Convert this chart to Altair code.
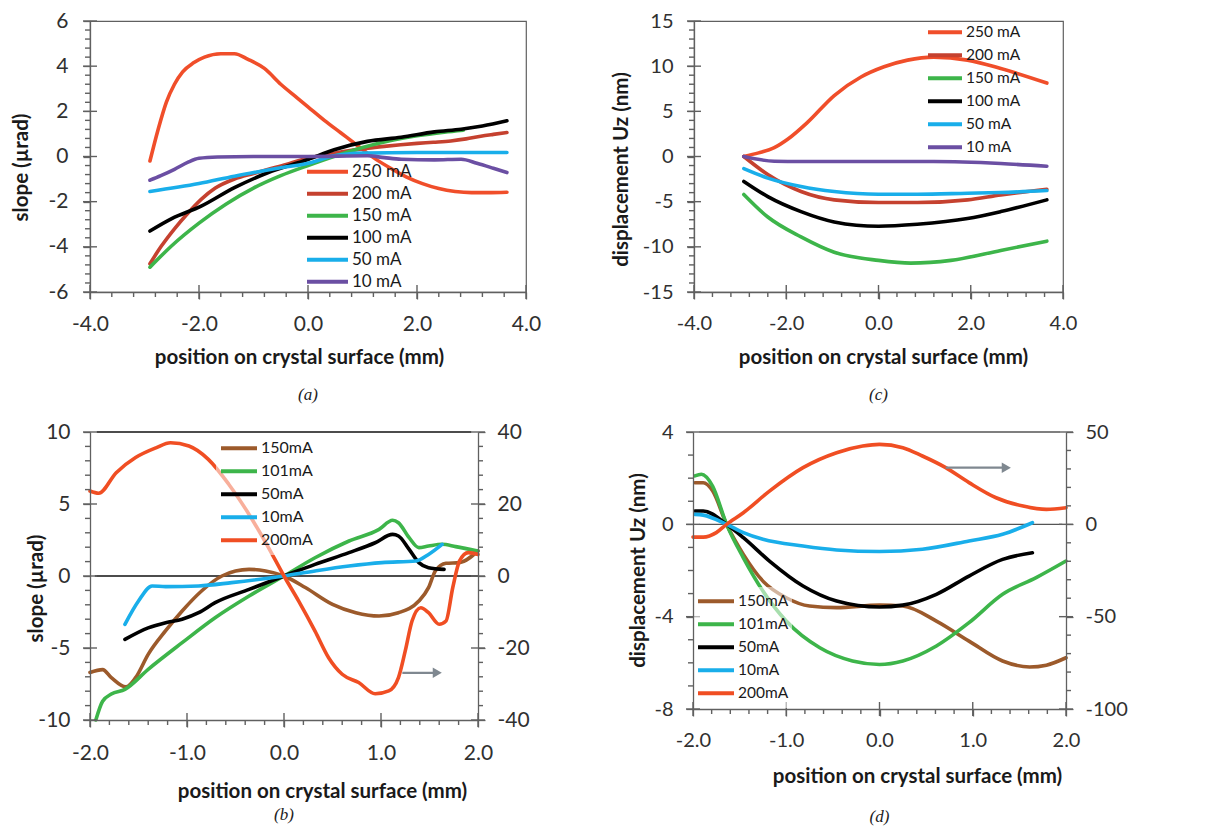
import altair as alt
import pandas as pd

FONT = "Lato"
GRAY = "#606060"

# ---------------- panel (a): slope vs position ----------------
a_series = ["250 mA", "200 mA", "150 mA", "100 mA", "50 mA", "10 mA"]
a_colors = ["#F04E2A", "#C5412F", "#3DB54A", "#000000", "#19AEEA", "#6B4FA3"]
a_x_250 = [-2.9, -2.75, -2.6, -2.45, -2.3, -2.1, -1.9, -1.6, -1.35, -1.1, -0.8, -0.5, -0.2, 0.0, 0.3, 0.6, 0.9, 1.2, 1.5, 1.8, 2.1, 2.4, 2.7, 3.0, 3.3, 3.65]
a_y_250 = [-0.2, 1.2, 2.4, 3.2, 3.75, 4.15, 4.4, 4.55, 4.55, 4.3, 3.9, 3.2, 2.6, 2.2, 1.6, 1.05, 0.5, -0.05, -0.5, -0.9, -1.2, -1.42, -1.55, -1.6, -1.6, -1.58]
a_x_200 = [-2.9, -2.7, -2.45, -2.2, -1.96, -1.7, -1.35, -1.0, -0.74, -0.4, -0.13, 0.2, 0.5, 0.8, 1.1, 1.4, 1.7, 2.0, 2.3, 2.62, 2.9, 3.17, 3.4, 3.65]
a_y_200 = [-4.75, -4.0, -3.2, -2.5, -1.9, -1.4, -1.0, -0.75, -0.57, -0.35, -0.15, 0.02, 0.15, 0.27, 0.37, 0.45, 0.52, 0.58, 0.63, 0.69, 0.78, 0.9, 0.98, 1.06]
a_x_150 = [-2.9, -2.5, -2.0, -1.5, -1.0, -0.5, 0.0, 0.5, 1.0, 1.5, 2.0, 2.5, 2.85]
a_y_150 = [-4.9, -3.95, -2.95, -2.1, -1.4, -0.85, -0.4, 0.02, 0.4, 0.7, 0.92, 1.08, 1.17]
a_x_100 = [-2.9, -2.5, -1.96, -1.35, -0.74, 0.0, 0.48, 1.09, 1.71, 2.32, 2.81, 3.2, 3.65]
a_y_100 = [-3.3, -2.75, -2.2, -1.38, -0.72, -0.13, 0.3, 0.67, 0.85, 1.09, 1.21, 1.35, 1.58]
a_x_50 = [-2.9, -2.0, -1.35, -0.5, 0.0, 0.48, 1.0, 2.0, 3.0, 3.65]
a_y_50 = [-1.55, -1.2, -0.87, -0.5, -0.3, 0.03, 0.15, 0.18, 0.18, 0.18]
a_x_10 = [-2.9, -2.7, -2.45, -2.2, -2.0, -1.66, -1.0, 0.0, 1.09, 1.4, 1.71, 2.32, 2.81, 3.1, 3.4, 3.65]
a_y_10 = [-1.05, -0.85, -0.57, -0.25, -0.08, -0.02, 0.0, 0.0, 0.03, -0.05, -0.12, -0.15, -0.12, -0.3, -0.52, -0.71]

# ---------------- panel (c): displacement vs position ----------------
c_series = ["250 mA", "200 mA", "150 mA", "100 mA", "50 mA", "10 mA"]
c_colors = a_colors
c_x_250 = [-2.92, -2.6, -2.26, -1.97, -1.54, -0.96, -0.38, 0.12, 0.63, 1.2, 1.93, 2.65, 3.65]
c_y_250 = [0.0, 0.4, 0.97, 1.9, 3.77, 6.75, 8.8, 9.93, 10.67, 11.0, 10.67, 9.74, 8.13]
c_x_mid = [-2.92, -2.4, -1.68, -0.96, 0.0, 0.84, 1.93, 2.65, 3.65]
c_y_200 = [0.0, -2.0, -3.88, -4.8, -5.1, -5.1, -4.8, -4.25, -3.62]
c_x_150 = [-2.92, -2.4, -1.68, -0.96, 0.0, 0.7, 1.57, 2.65, 3.65]
c_y_150 = [-4.2, -6.7, -8.9, -10.6, -11.5, -11.8, -11.5, -10.4, -9.37]
c_y_100 = [-2.76, -4.44, -6.1, -7.24, -7.72, -7.5, -6.87, -6.1, -4.8]
c_y_50 = [-1.34, -2.39, -3.32, -3.88, -4.18, -4.18, -4.07, -3.99, -3.77]
c_x_10 = [-2.92, -2.26, -1.68, 0.0, 1.2, 2.65, 3.65]
c_y_10 = [0.0, -0.52, -0.56, -0.56, -0.56, -0.78, -1.08]

# ---------------- panel (b): slope, dual axis ----------------
b_series = ["150mA", "101mA", "50mA", "10mA", "200mA"]
b_colors = ["#9C5A2B", "#3DB54A", "#000000", "#19AEEA", "#F04E23"]
b_x_150 = [-2.0, -1.87, -1.78, -1.63, -1.53, -1.4, -1.22, -1.05, -0.85, -0.64, -0.36, -0.19, 0.0, 0.22, 0.5, 0.74, 0.98, 1.18, 1.39, 1.49, 1.56, 1.67, 1.81, 2.0]
b_y_150 = [-6.7, -6.5, -7.06, -7.7, -7.06, -5.44, -3.8, -2.43, -1.04, 0.0, 0.46, 0.35, 0.0, -0.8, -1.97, -2.55, -2.78, -2.55, -1.74, -0.81, 0.35, 0.88, 0.93, 1.74]
b_x_101 = [-1.94, -1.87, -1.78, -1.64, -1.4, -1.05, -0.71, -0.36, 0.0, 0.32, 0.67, 0.98, 1.12, 1.18, 1.29, 1.39, 1.49, 1.63, 1.77, 2.0]
b_y_101 = [-10.0, -8.7, -8.2, -7.87, -6.48, -4.63, -2.9, -1.39, 0.0, 1.27, 2.43, 3.24, 3.87, 3.7, 2.66, 1.97, 2.08, 2.2, 2.04, 1.74]
b_x_50 = [-1.64, -1.4, -1.22, -1.05, -0.88, -0.71, -0.36, 0.0, 0.32, 0.67, 0.94, 1.12, 1.18, 1.29, 1.39, 1.49, 1.65]
b_y_50 = [-4.4, -3.6, -3.24, -3.0, -2.55, -1.85, -0.93, 0.0, 0.81, 1.62, 2.31, 2.89, 2.78, 1.85, 0.93, 0.58, 0.46]
b_x_10 = [-1.64, -1.5, -1.36, -1.22, -0.88, -0.54, 0.0, 0.32, 0.67, 1.01, 1.36, 1.49, 1.63]
b_y_10 = [-3.36, -1.74, -0.69, -0.74, -0.69, -0.46, 0.0, 0.35, 0.69, 0.93, 1.04, 1.5, 2.2]
b_x_200 = [-2.0, -1.91, -1.73, -1.53, -1.32, -1.17, -0.98, -0.78, -0.57, -0.36, -0.16, 0.0, 0.15, 0.32, 0.46, 0.6, 0.77, 0.94, 1.08, 1.18, 1.25, 1.32, 1.41, 1.49, 1.6, 1.67, 1.74, 1.81, 1.9, 2.0]
b_y_200 = [23.6, 23.0, 28.7, 32.9, 35.6, 37.0, 36.1, 32.4, 25.5, 17.1, 7.9, 0.0, -6.9, -15.3, -22.7, -27.3, -29.6, -32.7, -31.9, -28.2, -20.8, -12.5, -8.8, -10.2, -13.4, -12.5, -3.2, 4.2, 6.5, 6.0]
b_arrow_x = [1.22]
b_arrow_x2 = [1.58]
b_arrow_y = [-26.9]
b_rule_y = [10, 0]
b_rule_x = [-1.93, -1.95]
b_rule_x2 = [1.93, 2.0]

# ---------------- panel (d): displacement, dual axis ----------------
d_series = ["150mA", "101mA", "50mA", "10mA", "200mA"]
d_colors = b_colors
d_x_150 = [-1.98, -1.89, -1.79, -1.64, -1.46, -1.25, -1.0, -0.75, -0.46, 0.0, 0.25, 0.61, 0.96, 1.32, 1.61, 1.79, 2.0]
d_y_150 = [1.8, 1.8, 1.45, 0.0, -1.3, -2.46, -3.18, -3.54, -3.61, -3.5, -3.54, -4.19, -5.06, -5.92, -6.18, -6.1, -5.78]
d_x_101 = [-1.98, -1.91, -1.79, -1.64, -1.46, -1.25, -1.0, -0.64, -0.29, 0.0, 0.25, 0.61, 0.96, 1.32, 1.68, 2.0]
d_y_101 = [2.1, 2.17, 1.66, 0.0, -1.45, -2.89, -4.19, -5.35, -5.92, -6.07, -5.92, -5.27, -4.26, -3.03, -2.31, -1.59]
d_x_50 = [-1.98, -1.89, -1.64, -1.46, -1.18, -0.82, -0.46, 0.0, 0.25, 0.61, 0.96, 1.32, 1.64]
d_y_50 = [0.58, 0.58, 0.0, -0.58, -1.59, -2.67, -3.32, -3.58, -3.5, -3.03, -2.24, -1.52, -1.23]
d_x_10 = [-1.98, -1.89, -1.64, -1.46, -1.25, -0.82, -0.46, 0.0, 0.46, 0.96, 1.32, 1.64]
d_y_10 = [0.43, 0.4, 0.0, -0.36, -0.65, -0.94, -1.11, -1.18, -1.08, -0.72, -0.43, 0.07]
d_x_200 = [-2.0, -1.89, -1.75, -1.64, -1.46, -1.18, -0.82, -0.46, -0.18, 0.0, 0.25, 0.46, 0.71, 0.96, 1.25, 1.54, 1.79, 2.0]
d_y_200 = [-6.9, -6.9, -4.5, 0.0, 6.3, 18.0, 30.7, 38.8, 42.4, 43.3, 41.5, 37.0, 30.7, 22.6, 14.4, 9.9, 8.1, 9.0]
d_arrow_x = [0.71]
d_arrow_x2 = [1.36]
d_arrow_y = [30.7]
d_rule_y = [4, 0]
d_rule_x = [-1.93, -1.93]
d_rule_x2 = [1.93, 1.96]


def long(names, xs, ys):
    rows = []
    for n, xv, yv in zip(names, xs, ys):
        for i, (a, b) in enumerate(zip(xv, yv)):
            rows.append({"x": a, "y": b, "s": n, "i": i})
    return pd.DataFrame(rows)


def ticks_between(lo, hi, step, majors):
    out, k = [], 0
    while True:
        v = round(lo + k * step, 6)
        if v > hi + 1e-9:
            break
        if all(abs(v - m) > 1e-6 for m in majors):
            out.append(v)
        k += 1
    return out


def lbl(fmt):
    return f"datum.value < 0 ? '-' + format(-datum.value, '{fmt}') : format(datum.value, '{fmt}')"


def ax_main(orient, values, fmt, lp, fs, title=None, tx=None, ty=None):
    kw = dict(orient=orient, values=values, labelExpr=lbl(fmt), ticks=True, tickSize=7,
              tickColor=GRAY, tickWidth=1.3, domain=True, domainColor=GRAY, domainWidth=1.3,
              labelFont=FONT, labelFontSize=fs, labelColor="#303030",
              labelPadding=lp, grid=False, labelFlush=False, labelOverlap=False, zindex=2)
    if title:
        kw.update(title=title, titleFont=FONT, titleFontSize=20.5, titleFontWeight="bold",
                  titleColor="#1a1a1a", titleX=tx, titleY=ty, titleAlign="center",
                  titleBaseline="middle")
    else:
        kw["title"] = None
    return alt.Axis(**kw)


def tick_layer(values, at, horizontal_axis, length, off, xs, ys):
    """Tick marks drawn as short rules at the tick values, placed through the scales."""
    n = len(values)
    if horizontal_axis:
        df = pd.DataFrame({"x": [float(v) for v in values], "y": [float(at)] * n})
        return alt.Chart(df).mark_rule(color=GRAY, strokeWidth=1.4, opacity=1,
                                       yOffset=off - length / 2, y2Offset=off + length / 2).encode(
            x=alt.X("x:Q", scale=xs, axis=None),
            y=alt.Y("y:Q", scale=ys, axis=None),
            y2=alt.Y2("y:Q"))
    df = pd.DataFrame({"x": [float(at)] * n, "y": [float(v) for v in values]})
    return alt.Chart(df).mark_rule(color=GRAY, strokeWidth=1.4, opacity=1,
                                   xOffset=off - length / 2, x2Offset=off + length / 2).encode(
        y=alt.Y("y:Q", scale=ys, axis=None),
        x=alt.X("x:Q", scale=xs, axis=None),
        x2=alt.X2("x:Q"))


def line_rule(df, xs, ys, color, width):
    enc = dict(x=alt.X("x:Q", scale=xs, axis=None), y=alt.Y("y:Q", scale=ys, axis=None))
    if "x2" in df.columns:
        enc["x2"] = "x2:Q"
    if "y2" in df.columns:
        enc["y2"] = "y2:Q"
    return alt.Chart(df).mark_rule(color=color, strokeWidth=width).encode(**enc)


def panel(df, series, colors, legend, W, H, fs, xdom, xmaj, xstep, xfmt, xlp, xtitle, xtx, xty,
          ydom, ymaj, ystep, yfmt, ylp, ytitle, ytx, yty, caption, cap_off, frame,
          dfr=None, rdom=None, rmaj=None, rstep=None, rlp=None, arrow=None, rules=None, rule_color=None):
    xs = alt.Scale(domain=xdom, nice=False, zero=False)
    ys = alt.Scale(domain=ydom, nice=False, zero=False)
    xmin = ticks_between(xdom[0], xdom[1], xstep, xmaj)
    ymin = ticks_between(ydom[0], ydom[1], ystep, ymaj)
    color = alt.Color("s:N", scale=alt.Scale(domain=series, range=colors), legend=legend)
    layers = []
    if rules is not None:
        layers.append(line_rule(rules, xs, ys, rule_color, 1.3))
    main = alt.Chart(df).mark_line(strokeWidth=3.6, interpolate="monotone", strokeCap="round").encode(
        x=alt.X("x:Q", scale=xs, axis=ax_main("bottom", xmaj, xfmt, xlp, fs, xtitle, xtx, xty)),
        y=alt.Y("y:Q", scale=ys, axis=ax_main("left", ymaj, yfmt, ylp, fs, ytitle, ytx, yty)),
        color=color, order="i:Q")
    layers.append(main)
    if dfr is not None:
        rs = alt.Scale(domain=rdom, nice=False, zero=False)
        rmin = ticks_between(rdom[0], rdom[1], rstep, rmaj)
        layers.append(alt.Chart(dfr).mark_line(strokeWidth=3.6, interpolate="monotone", strokeCap="round").encode(
            x=alt.X("x:Q", scale=xs, axis=None),
            y=alt.Y("y:Q", scale=rs, axis=ax_main("right", rmaj, "d", rlp, fs)),
            color=color, order="i:Q"))
        layers.append(tick_layer(rmaj, xdom[1], False, 14, 0, xs, rs))
        layers.append(tick_layer(rmin, xdom[1], False, 5, 2.5, xs, rs))
        if arrow is not None:
            layers.append(line_rule(arrow, xs, rs, "#7F8890", 2.2))
            layers.append(alt.Chart(arrow).mark_point(shape="triangle-right", filled=True, size=110,
                                                      color="#7F8890", opacity=1).encode(
                x=alt.X("x2:Q", scale=xs, axis=None), y=alt.Y("y:Q", scale=rs, axis=None)))
    # tick marks drawn on top: majors cross the axis, minors sit outside
    layers.append(tick_layer(xmaj, ydom[0], True, 14, 0, xs, ys))
    layers.append(tick_layer(xmin, ydom[0], True, 5, 2.5, xs, ys))
    layers.append(tick_layer(ymaj, xdom[0], False, 14, 0, xs, ys))
    layers.append(tick_layer(ymin, xdom[0], False, 5, -2.5, xs, ys))
    ch = alt.layer(*layers).resolve_scale(y="independent").resolve_axis(x="independent", y="independent")
    ch = ch.properties(
        width=W, height=H,
        title=alt.TitleParams(text=caption, orient="bottom", anchor="middle", frame="group",
                              font="Liberation Serif", fontStyle="italic", fontWeight="normal",
                              fontSize=17, color="#222222", offset=cap_off),
        view=alt.ViewBackground(stroke=GRAY if frame else "transparent", strokeWidth=1.2))
    return ch


def legend(x, y, size, fs, ch, fill=None, pad=0):
    kw = dict(orient="none", legendX=x, legendY=y, title=None, symbolType="stroke", symbolSize=size,
              symbolStrokeWidth=4, labelFont=FONT, labelFontSize=fs, labelColor="#1a1a1a",
              clipHeight=ch, rowPadding=0, padding=pad, labelOffset=2)
    if fill:
        kw["fillColor"] = fill
    return alt.Legend(**kw)


df_a = long(a_series, [a_x_250, a_x_200, a_x_150, a_x_100, a_x_50, a_x_10],
            [a_y_250, a_y_200, a_y_150, a_y_100, a_y_50, a_y_10])
df_c = long(c_series, [c_x_250, c_x_mid, c_x_150, c_x_mid, c_x_mid, c_x_10],
            [c_y_250, c_y_200, c_y_150, c_y_100, c_y_50, c_y_10])
df_b = long(b_series[:4], [b_x_150, b_x_101, b_x_50, b_x_10], [b_y_150, b_y_101, b_y_50, b_y_10])
df_br = long(b_series[4:], [b_x_200], [b_y_200])
df_d = long(d_series[:4], [d_x_150, d_x_101, d_x_50, d_x_10], [d_y_150, d_y_101, d_y_50, d_y_10])
df_dr = long(d_series[4:], [d_x_200], [d_y_200])

XT = "position on crystal surface (mm)"

A = panel(df_a, a_series, a_colors, legend(215, 140, 1681, 17, 21.7), 436, 271, 21,
          [-4, 4], [-4, -2, 0, 2, 4], 0.4, ".1f", 14, XT, 209, 65,
          [-6, 6], [-6, -4, -2, 0, 2, 4, 6], 0.4, "d", 15, "slope (µrad)", -69, 146,
          "(a)", 19, True)
C = panel(df_c, c_series, c_colors, legend(232, 0, 1156, 15.5, 22.6), 369, 271, 20,
          [-4, 4], [-4, -2, 0, 2, 4], 0.4, ".1f", 14, XT, 189, 65,
          [-15, 15], [-15, -10, -5, 0, 5, 10, 15], 1, "d", 14, "displacement  Uz (nm)", -73, 148,
          "(c)", 19, True)
B = panel(df_b, b_series, b_colors,
          legend(126, 2, 1296, 16, 22.5, "rgba(255,255,255,0.55)", 3), 388, 288, 21,
          [-2, 2], [-2, -1, 0, 1, 2], 0.2, ".1f", 15, XT, 232, 71,
          [-10, 10], [-10, -5, 0, 5, 10], 1, "d", 13, "slope (µrad)", -54, 156,
          "(b)", 5, False,
          dfr=df_br, rdom=[-40, 40], rmaj=[-40, -20, 0, 20, 40], rstep=4, rlp=12,
          arrow=pd.DataFrame({"x": b_arrow_x, "x2": b_arrow_x2, "y": b_arrow_y}),
          rules=pd.DataFrame({"x": b_rule_x, "x2": b_rule_x2, "y": b_rule_y}), rule_color="#111111")
D = panel(df_d, d_series, d_colors,
          legend(0, 155, 1296, 15.5, 22.7, "rgba(255,255,255,0.55)", 3), 373, 277, 20,
          [-2, 2], [-2, -1, 0, 1, 2], 0.2, ".1f", 14, XT, 224, 67,
          [-8, 4], [-8, -4, 0, 4], 1, "d", 13, "displacement Uz (nm)", -55, 138,
          "(d)", 22, False,
          dfr=df_dr, rdom=[-100, 50], rmaj=[-100, -50, 0, 50], rstep=10, rlp=12,
          arrow=pd.DataFrame({"x": d_arrow_x, "x2": d_arrow_x2, "y": d_arrow_y}),
          rules=pd.DataFrame({"x": d_rule_x, "x2": d_rule_x2, "y": d_rule_y}), rule_color="#555555")

chart = alt.vconcat(
    alt.hconcat(A, C, spacing=68).resolve_scale(color="independent"),
    alt.hconcat(B, D, spacing=97).resolve_scale(color="independent"),
    spacing=16,
).resolve_scale(color="independent").properties(
    padding={"left": 2, "top": 1, "right": 0, "bottom": 0}, background="white"
).configure_view(stroke="transparent")

chart.save("out.html", embed_options={"renderer": "svg", "actions": False})
